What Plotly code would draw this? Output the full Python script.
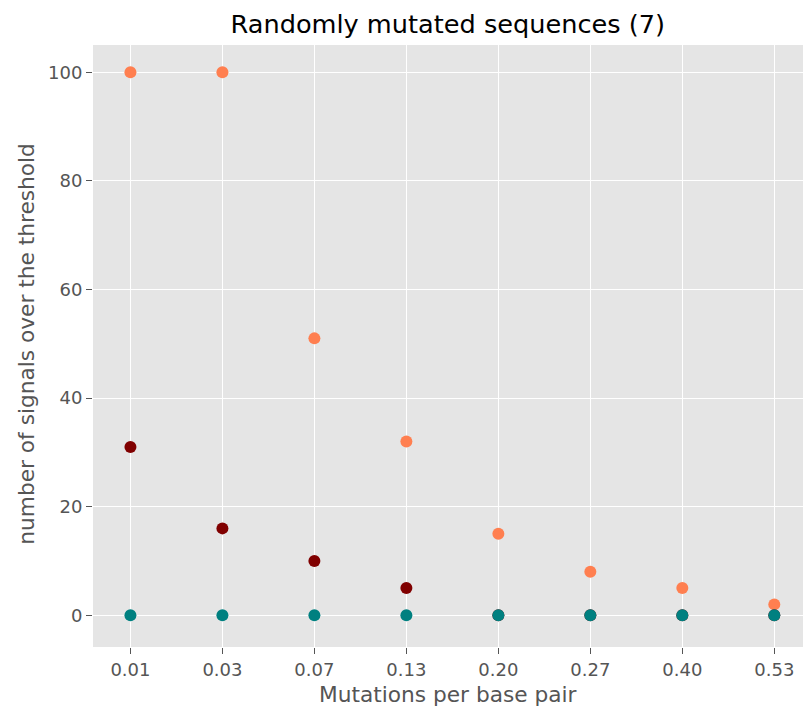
import plotly.graph_objects as go

categories = ["0.01", "0.03", "0.07", "0.13", "0.20", "0.27", "0.40", "0.53"]
orange_vals = [100, 100, 51, 32, 15, 8, 5, 2]
maroon_vals = [31, 16, 10, 5, 0, 0, 0, 0]
teal_vals = [0, 0, 0, 0, 0, 0, 0, 0]
y_ticks = [0, 20, 40, 60, 80, 100]

W, H = 803, 706
L, R, T, B = 92.5, 0, 45, 59.3
xpos = list(range(len(categories)))

fig = go.Figure()
for vals, col in [(orange_vals, "#FF7F50"), (maroon_vals, "#800000"), (teal_vals, "#008080")]:
    fig.add_trace(go.Scatter(x=xpos, y=vals, mode="markers",
                             marker=dict(color=col, size=12, line=dict(width=0)),
                             showlegend=False, cliponaxis=False))

font = "DejaVu Sans, Liberation Sans, sans-serif"
fig.update_layout(
    width=W, height=H,
    margin=dict(l=L, r=R, t=T, b=B, pad=0),
    paper_bgcolor="white", plot_bgcolor="#E5E5E5",
    font=dict(family=font, color="#555555"),
    title=dict(text="Randomly mutated sequences (7)", font=dict(size=25.6, color="black", family=font),
               x=(L + (W - R)) / 2 / W, xanchor="center", xref="container",
               y=1 - 24 / H, yanchor="middle", yref="container"),
    xaxis=dict(range=[-0.407, 7.312], tickvals=xpos, ticktext=categories,
               showgrid=True, gridcolor="white", gridwidth=1.4, zeroline=False,
               ticks="outside", ticklen=6, tickwidth=1.4, tickcolor="#555555",
               tickfont=dict(size=18, color="#555555"), showline=False),
    yaxis=dict(range=[-5.85, 105.04], tickvals=y_ticks,
               showgrid=True, gridcolor="white", gridwidth=1.4, zeroline=False,
               ticks="outside", ticklen=6, tickwidth=1.4, tickcolor="#555555",
               tickfont=dict(size=18, color="#555555"), showline=False),
    annotations=[
        dict(text="Mutations per base pair", xref="paper", yref="paper",
             x=0.5, y=-(694 - (H - B)) / (H - T - B), xanchor="center", yanchor="middle",
             showarrow=False, font=dict(size=21.7, color="#555555", family=font)),
        dict(text="number of signals over the threshold", xref="paper", yref="paper",
             x=-(L - 26) / (W - L - R), y=((H - B) - 344) / (H - T - B), xanchor="center", yanchor="middle",
             textangle=-90, showarrow=False, font=dict(size=21.7, color="#555555", family=font)),
    ],
)

fig.write_html("out.html", config={"displayModeBar": False},
               post_script="document.body.style.margin='0';document.body.style.overflow='hidden';")
